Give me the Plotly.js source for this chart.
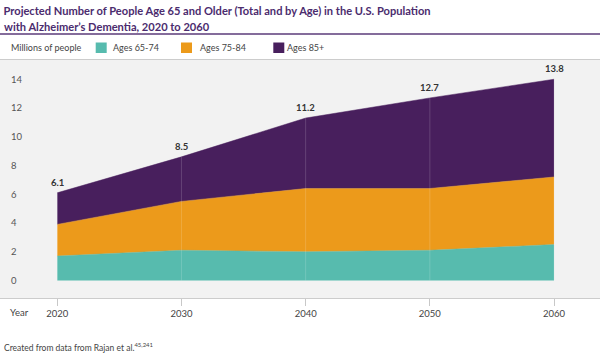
<!DOCTYPE html>
<html>
<head>
<meta charset="utf-8">
<script src="https://cdn.plot.ly/plotly-3.0.1.min.js"></script>
<style>html,body{margin:0;padding:0;background:#fff;}#chart{width:600px;height:363px;}</style>
</head>
<body>
<div id="chart"></div>
<script>
// ---- data ----
var years = [2020, 2030, 2040, 2050, 2060];
var ages65to74 = [1.7, 2.1, 2.0, 2.1, 2.5];
var ages75to84 = [2.2, 3.4, 4.4, 4.3, 4.7];
var ages85plus = [2.2, 3.1, 4.9, 6.3, 6.8];
var totalLabels = ['6.1', '8.5', '11.2', '12.7', '13.8'];
var seriesNames = ['Ages 65-74', 'Ages 75-84', 'Ages 85+'];
var yTicks = [0, 2, 4, 6, 8, 10, 12, 14];
var titleLine1 = 'Projected Number of People Age 65 and Older (Total and by Age) in the U.S. Population';
var titleLine2 = 'with Alzheimer\u2019s Dementia, 2020 to 2060';

var colors = ['#57bbae', '#ec9a1b', '#481f5d'];
var seriesVals = [ages65to74, ages75to84, ages85plus];
var FONT = 'Lato, "Open Sans", sans-serif';
var TITLE_FONT = {family: FONT, size: 11.1, color: '#4b2c6e', weight: 'bold'};

// plot geometry helpers (paper coords): plot area top = 60px, bottom = 298px
var PT = 60, PB = 298, PH = PB - PT, W = 600, H = 363;
var PAD = 2; // annotation inner padding compensation
function py(p) { return (PB - p) / PH; }
function px(p) { return (p - PAD) / W; }

var traces = seriesVals.map(function (vals, i) {
  return {
    type: 'scatter', x: years, y: vals, name: seriesNames[i],
    stackgroup: 'one', mode: 'lines',
    line: {width: 0.5, color: colors[i]}, fillcolor: colors[i],
    hoverinfo: 'skip', showlegend: false
  };
});

var totals = years.map(function (_, i) {
  return ages65to74[i] + ages75to84[i] + ages85plus[i];
});

var annotations = [];
years.forEach(function (yr, i) {
  annotations.push({
    x: yr, y: totals[i], xref: 'x', yref: 'y', text: totalLabels[i],
    showarrow: false, yanchor: 'bottom', yshift: 3,
    font: {family: FONT, size: 9.5, color: '#333', weight: 'bold'}
  });
});
annotations.push({
  x: px(4), y: py(26.5), xref: 'paper', yref: 'paper', xanchor: 'left', yanchor: 'middle',
  text: titleLine2, showarrow: false, font: TITLE_FONT
});
annotations.push({
  x: px(10.5), y: py(47.7), xref: 'paper', yref: 'paper', xanchor: 'left', yanchor: 'middle',
  text: 'Millions of people', showarrow: false,
  font: {family: FONT, size: 9, color: '#444'}
});
var legendText = [112.5, 199.5, 287];
var legendBox = [95.7, 181, 273.3];
var shapes = [];
seriesNames.forEach(function (n, i) {
  annotations.push({
    x: px(legendText[i]), y: py(47.7), xref: 'paper', yref: 'paper', xanchor: 'left', yanchor: 'middle',
    text: n, showarrow: false, font: {family: FONT, size: 9, color: '#444'}
  });
  shapes.push({
    type: 'rect', xref: 'paper', yref: 'paper',
    x0: legendBox[i] / W, x1: (legendBox[i] + 11) / W, y0: py(53), y1: py(42.5),
    fillcolor: colors[i], line: {width: 0}
  });
});
annotations.push({
  x: px(10), y: py(312.5), xref: 'paper', yref: 'paper', xanchor: 'left', yanchor: 'middle',
  text: 'Year', showarrow: false, font: {family: FONT, size: 9.5, color: '#444'}
});
annotations.push({
  x: px(4), y: py(347), xref: 'paper', yref: 'paper', xanchor: 'left', yanchor: 'middle',
  text: 'Created from data from Rajan et al.<sup>45,241</sup>', showarrow: false,
  font: {family: FONT, size: 8.5, color: '#444'}
});

// purple rule under the title
shapes.push({
  type: 'line', xref: 'paper', yref: 'paper', x0: 0, x1: 1, y0: py(34), y1: py(34),
  line: {color: '#5b3b7a', width: 1.5}
});
// faint vertical guides over the areas
years.forEach(function (yr, i) {
  shapes.push({
    type: 'line', xref: 'x', yref: 'y', x0: yr, x1: yr, y0: 0, y1: totals[i],
    line: {color: 'rgba(255,255,255,0.16)', width: 1}, layer: 'above'
  });
});

var layout = {
  width: W, height: H,
  margin: {l: 0, r: 0, t: PT, b: H - PB, pad: 0},
  paper_bgcolor: '#ffffff', plot_bgcolor: '#f2f2f2',
  showlegend: false,
  title: {
    text: titleLine1,
    x: 3.5 / W, xanchor: 'left', xref: 'container',
    y: 1 - 11.5 / H, yanchor: 'middle', yref: 'container',
    font: TITLE_FONT
  },
  xaxis: {
    range: [2015.39, 2063.7], tickvals: years, ticktext: years.map(String),
    ticks: 'outside', ticklen: 7, tickcolor: '#c8c8c8', tickwidth: 1,
    showline: true, linecolor: '#cccccc', linewidth: 1, mirror: true,
    showgrid: false, zeroline: false,
    tickfont: {family: FONT, size: 9.5, color: '#444'}, fixedrange: true
  },
  yaxis: {
    range: [-1.22, 15.34], tickvals: yTicks, ticktext: yTicks.map(String),
    ticks: '', showline: false, showgrid: false, zeroline: false,
    ticklabelposition: 'inside', ticklabelstandoff: 8,
    tickfont: {family: FONT, size: 9.5, color: '#555'}, fixedrange: true
  },
  annotations: annotations,
  shapes: shapes
};

Plotly.newPlot('chart', traces, layout, {displayModeBar: false, staticPlot: true});
</script>
</body>
</html>
